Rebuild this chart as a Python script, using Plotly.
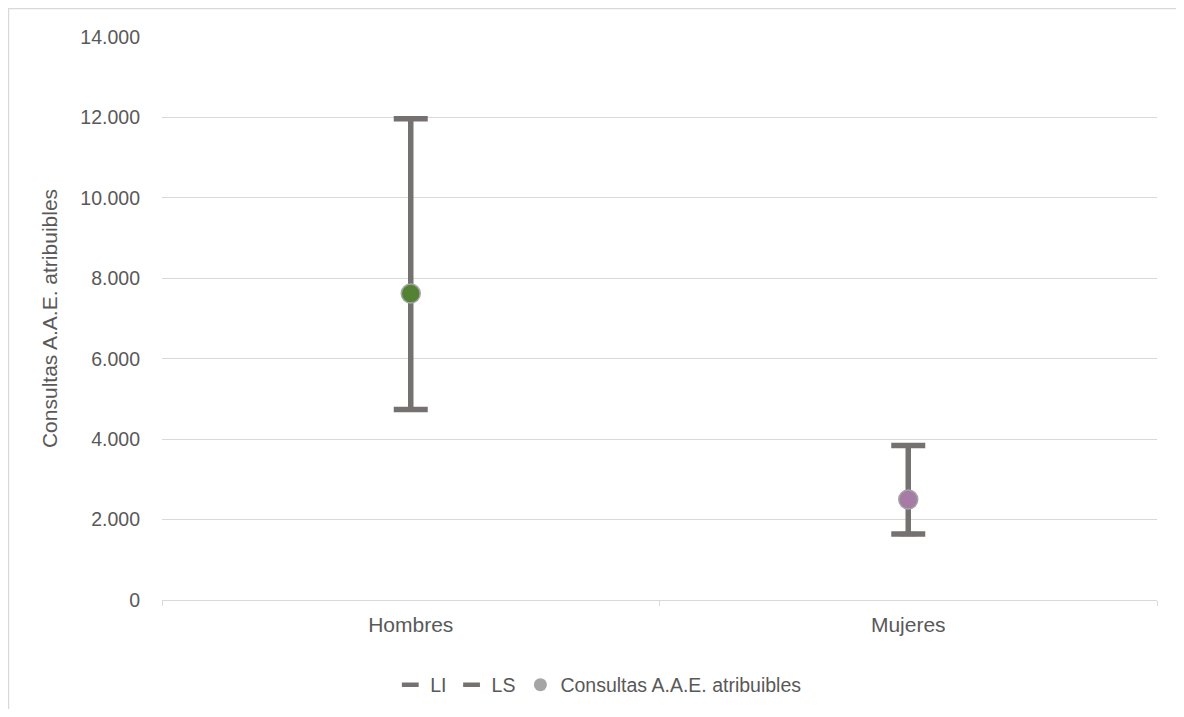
import plotly.graph_objects as go

categories = ["Hombres", "Mujeres"]
valores = [7620, 2500]
li = [4740, 1640]
ls = [11970, 3840]
point_colors = ["#548235", "#A67BA6"]

GREY = "#767171"
TXT = "#595959"
FONT = "Liberation Sans, Arial"

fig = go.Figure()

# interval (error bars with caps); grey legend marker for the estimate
fig.add_trace(go.Scatter(
    x=categories, y=valores, mode="markers", name="Consultas A.A.E. atribuibles",
    marker=dict(color="#A5A5A5", size=13, line=dict(color="#A5A5A5", width=0)),
    error_y=dict(type="data", symmetric=False,
                 array=[s - v for s, v in zip(ls, valores)],
                 arrayminus=[v - l for v, l in zip(valores, li)],
                 color=GREY, thickness=5.5, width=17),
    legendrank=3,
))
fig.add_trace(go.Scatter(
    x=categories, y=li, mode="markers", name="LI",
    marker=dict(symbol="line-ew", size=12, color=GREY, line=dict(color=GREY, width=4.5)),
    legendrank=1,
))
fig.add_trace(go.Scatter(
    x=categories, y=ls, mode="markers", name="LS",
    marker=dict(symbol="line-ew", size=12, color=GREY, line=dict(color=GREY, width=4.5)),
    legendrank=2,
))
fig.add_trace(go.Scatter(
    x=categories, y=valores, mode="markers", showlegend=False,
    marker=dict(color=point_colors, size=19, line=dict(color="#A5A5A5", width=1.5)),
))

fig.update_layout(
    width=1168, height=701,
    margin=dict(l=154, r=19, t=29, b=109),
    paper_bgcolor="white", plot_bgcolor="white",
    separators=",.",
    font=dict(family=FONT, color=TXT, size=18),
    showlegend=True,
    legend=dict(orientation="h", xref="container", yref="container",
                x=0.5058, xanchor="center", y=0.0342, yanchor="middle",
                font=dict(family=FONT, size=19.5, color=TXT),
                itemwidth=30, tracegroupgap=0),
    xaxis=dict(type="category", range=[-0.5, 1.5], showgrid=False,
               showline=True, linecolor="#D9D9D9", linewidth=1,
               ticks="outside", tickson="boundaries", ticklen=5, tickcolor="#D9D9D9",
               ticklabelstandoff=6,
               tickfont=dict(family=FONT, size=21, color=TXT)),
    yaxis=dict(range=[0, 14000], dtick=2000, tickformat=",d",
               showgrid=True, gridcolor="#D9D9D9", gridwidth=1, zeroline=False,
               ticks="", ticklabelstandoff=21,
               tickfont=dict(family=FONT, size=19.5, color=TXT),
               title=dict(text="Consultas A.A.E. atribuibles", standoff=16,
                          font=dict(family=FONT, size=21, color=TXT))),
    shapes=[dict(type="rect", xref="paper", yref="paper",
                 x0=-0.1543, x1=1.06, y0=-0.25, y1=1.0506,
                 line=dict(color="#D9D9D9", width=1.5), fillcolor="rgba(0,0,0,0)",
                 layer="below")],
)

fig.write_html("out.html")
